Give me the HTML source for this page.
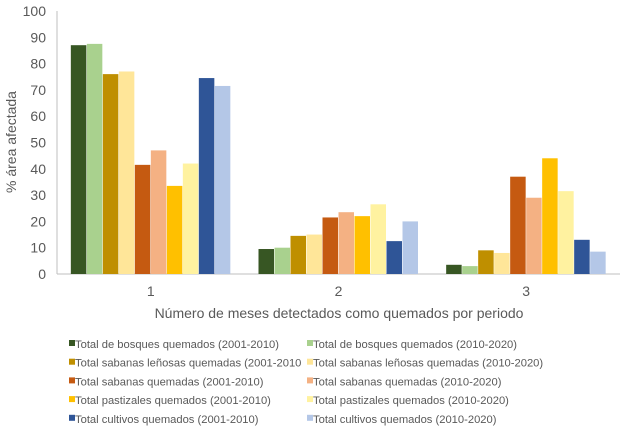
<!DOCTYPE html>
<html><head><meta charset="utf-8"><style>
body{margin:0;background:#fff;font-family:"Liberation Sans",sans-serif;}
svg text{font-family:"Liberation Sans",sans-serif;fill:#595959;}
</style></head><body>
<svg id="c" width="624" height="430"></svg>
<script>
const categories=["1","2","3"];
const seriesNames=["Total de bosques quemados (2001-2010)","Total de bosques quemados (2010-2020)","Total sabanas leñosas quemadas (2001-2010","Total sabanas leñosas quemadas (2010-2020)","Total sabanas quemadas (2001-2010)","Total sabanas quemadas (2010-2020)","Total pastizales quemados (2001-2010)","Total pastizales quemados (2010-2020)","Total cultivos quemados (2001-2010)","Total cultivos quemados (2010-2020)"];
const seriesColors=["#375623","#a9d18e","#bf8f00","#ffe699","#c55a11","#f4b183","#ffc000","#fff2a0","#2f5597","#b4c7e7"];
const v1=[87,87.5,76,77,41.5,47,33.5,42,74.5,71.5];
const v2=[9.5,10,14.5,15,21.5,23.5,22,26.5,12.5,20];
const v3=[3.5,3,9,8,37,29,44,31.5,13,8.5];
const yTicks=[0,10,20,30,40,50,60,70,80,90,100];
const values=[v1,v2,v3];
const NS="http://www.w3.org/2000/svg";
const svg=document.getElementById('c');
function mk(t,a){const e=document.createElementNS(NS,t);for(const k in a)e.setAttribute(k,a[k]);svg.appendChild(e);return e;}
const x0=57,x1=620,yB=274,yT=11;
const y=v=>yB-(v/100)*(yB-yT);
const gw=(x1-x0)/categories.length;
const gc=i=>x0+gw*(i+0.5);
const bw=16;
let ax=mk('line',{x1:x0,y1:yT,x2:x0,y2:yB,stroke:'#bfbfbf','stroke-width':1});


ax=mk('line',{x1:x0,y1:yB,x2:x1,y2:yB,stroke:'#bfbfbf','stroke-width':1});


yTicks.forEach(t=>{const e=mk('text',{x:46,y:y(t)+5,'text-anchor':'end','font-size':14});e.textContent=t;

});
const yt=mk('text',{x:16,y:142,'text-anchor':'middle','font-size':14,transform:'rotate(-90 16 142)'});yt.textContent='% área afectada';


categories.forEach((c,i)=>{
 const t=mk('text',{x:gc(i),y:296,'text-anchor':'middle','font-size':14});t.textContent=c;
 
 
 values[i].forEach((v,j)=>{
  const r=mk('rect',{x:gc(i)-bw*5+j*bw,y:y(v),width:bw-0.5,height:yB-y(v),fill:seriesColors[j]});
  
  
 });
});
const xt=mk('text',{x:339,y:318,'text-anchor':'middle','font-size':14});xt.textContent='Número de meses detectados como quemados por periodo';


seriesNames.forEach((n,j)=>{
 const col=j%2,row=Math.floor(j/2);
 const lx=col?307:69, ly=344+row*18.7;
 const r=mk('rect',{x:lx,y:ly-4,width:6,height:6,fill:seriesColors[j]});
 
 
 const t=mk('text',{x:lx+6,y:ly+4,'font-size':11.2});t.textContent=n;
 
 
});
</script>
</body></html>
